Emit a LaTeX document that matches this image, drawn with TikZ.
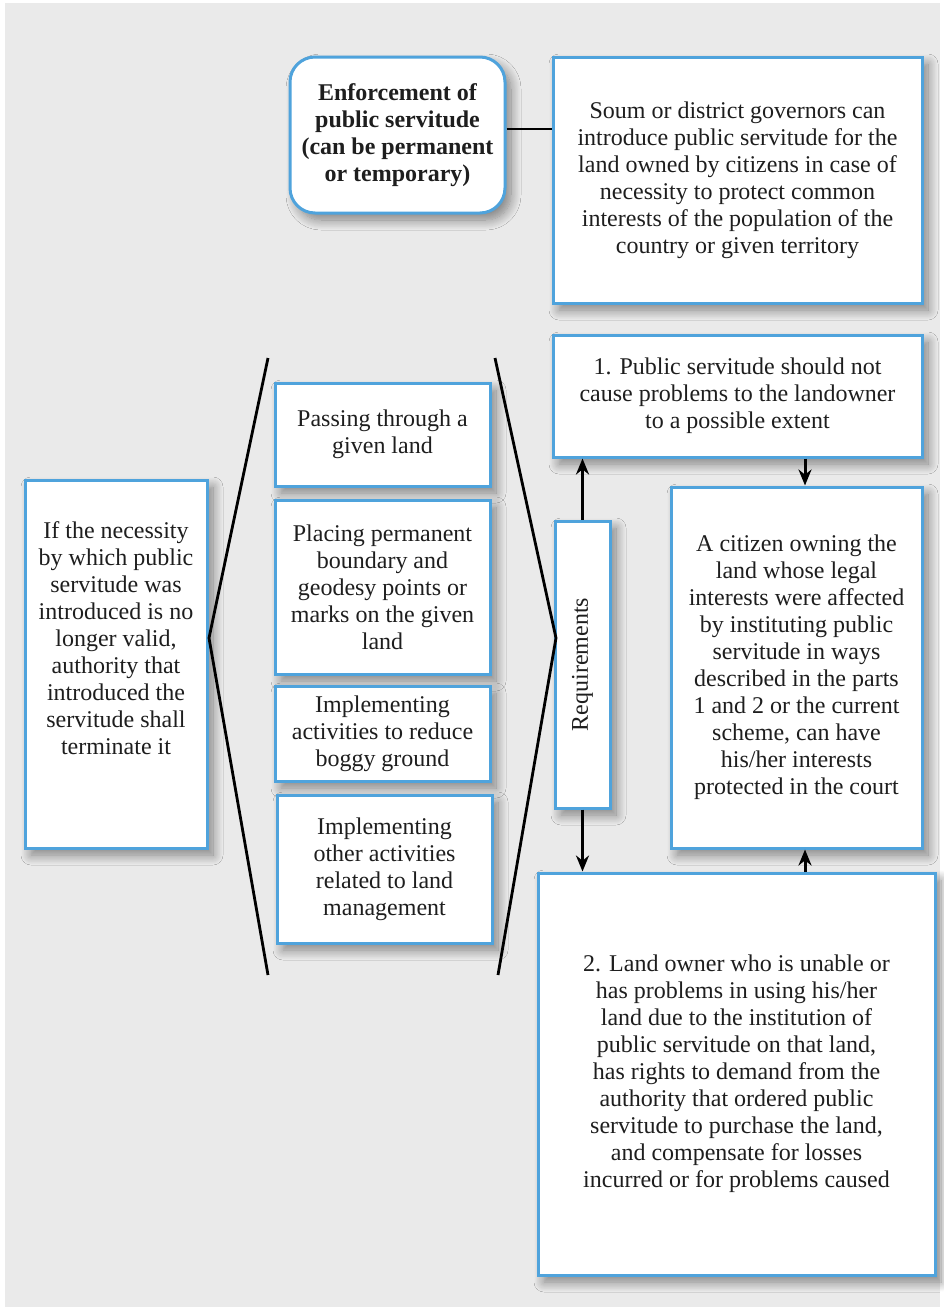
\documentclass[tikz,border=0pt]{standalone}
\usepackage{fontspec}
\setmainfont{Liberation Serif}
\usetikzlibrary{shadows.blur,arrows.meta}
\definecolor{bg}{HTML}{EAEAEA}
\definecolor{bluebd}{HTML}{4FA3DC}
\definecolor{txt}{HTML}{1E1E1E}
\tikzset{
  box/.style={draw=bluebd, line width=3pt, fill=white, rectangle, inner sep=0pt, align=center,
    text=txt, font=\fontsize{24}{27}\selectfont,
    blur shadow={shadow xshift=6pt, shadow yshift=-7pt, shadow blur radius=10pt, shadow blur steps=12, shadow opacity=45}},
  txtonly/.style={inner sep=0pt, align=center, text=txt, font=\fontsize{24}{27}\selectfont},
  arr/.style={line width=3pt, -{Stealth[length=16pt,width=13pt]}},
  brk/.style={line width=2.8pt, line join=miter},
  conn/.style={line width=2.8pt}
}
\begin{document}
\begin{tikzpicture}[x=1pt,y=-1pt]
\useasboundingbox (0,0) rectangle (943,1310);
\fill[bg] (5,3) rectangle (940,1307);

% top
\node[box, rounded corners=25pt, minimum width=215pt, minimum height=156pt, font=\bfseries\fontsize{24}{27}\selectfont] (enf) at (397.5,135)
  {Enforcement of\\public servitude\\(can be permanent\\or temporary)};
\node[box, minimum width=369pt, minimum height=246pt] (soum) at (737.5,180)
  {Soum or district governors can\\introduce public servitude for the\\land owned by citizens in case of\\necessity to protect common\\interests of the population of the\\country or given territory};
\draw[conn] ([yshift=6pt]enf.east) -- ([yshift=6pt]enf.east -| soum.west);

% right column
\node[box, minimum width=369pt, minimum height=122pt] (r1) at (737.5,396)
  {1. Public servitude should not\\cause problems to the landowner\\to a possible extent};
\node[box, minimum width=251pt, minimum height=361pt] (cit) at (796.5,667.5)
  {A citizen owning the\\land whose legal\\interests were affected\\by instituting public\\servitude in ways\\described in the parts\\1 and 2 or the current\\scheme, can have\\his/her interests\\protected in the court};
\node[box, minimum width=397pt, minimum height=402pt] (r2) at (736.5,1074)
  {2. Land owner who is unable or\\has problems in using his/her\\land due to the institution of\\public servitude on that land,\\has rights to demand from the\\authority that ordered public\\servitude to purchase the land,\\and compensate for losses\\incurred or for problems caused};
\node[box, minimum width=55pt, minimum height=287pt] (req) at (582.5,664.5) {};
\node[txtonly, rotate=90] (reqt) at (req.center) {Requirements};

% left box
\node[box, minimum width=182pt, minimum height=368pt] (lft) at (116,664) {};
\node[txtonly] (lftt) at (116,638)
  {If the necessity\\by which public\\servitude was\\introduced is no\\longer valid,\\authority that\\introduced the\\servitude shall\\terminate it};

% middle boxes
\node[box, minimum width=215pt, minimum height=103pt] (p1) at (382.5,434.5)
  {Passing through a\\given land};
\node[box, minimum width=215pt, minimum height=174pt] (p2) at (382.5,587)
  {Placing permanent\\boundary and\\geodesy points or\\marks on the given\\land};
\node[box, minimum width=215pt, minimum height=95pt] (p3) at (382.5,733.5)
  {Implementing\\activities to reduce\\boggy ground};
\node[box, minimum width=215pt, minimum height=148pt] (p4) at (384.5,869)
  {Implementing\\other activities\\related to land\\management};

% brackets
\draw[brk] (268,358) -- (209,638) -- (268,975);
\draw[brk] (495,358) -- (556,638) -- (498,975);

% arrows
\coordinate (ax) at (805,0);
\draw[arr] (req.north) -- (req.north |- r1.south);
\draw[arr] (req.south) -- (req.south |- r2.north);
\draw[arr] (r1.south -| ax) -- (cit.north -| ax);
\draw[arr] (r2.north -| ax) -- (cit.south -| ax);
\end{tikzpicture}
\end{document}
